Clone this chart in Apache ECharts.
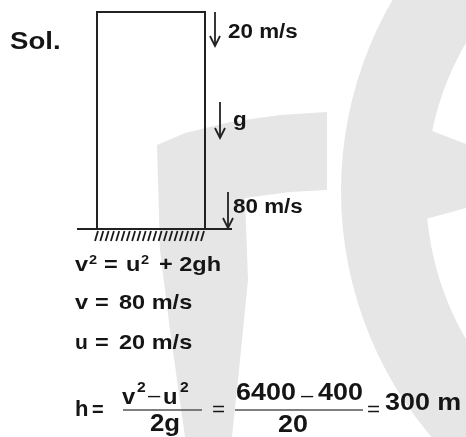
<!DOCTYPE html>
<html>
<head>
<meta charset="utf-8">
<script src="https://cdn.jsdelivr.net/npm/echarts@6/dist/echarts.min.js"></script>
<style>
    html,body{margin:0;padding:0;background:#fff;}
    #chart{width:466px;height:437px;}
</style>
</head>
<body>
<div id="chart"></div>
<script>
    // values of the problem
    const u = 20          // initial speed, m/s
    const v = 80          // final speed, m/s
    const g = 10          // gravity
    const speedLabels = [u + ' m/s', 'g', v + ' m/s']
    const eqLines = [
        ['v', '=', 'u', '+ 2gh'],
        ['v', '=', v + ' m/s'],
        ['u', '=', u + ' m/s']
    ]
    const vSq = v * v
    const uSq = u * u
    const twoG = 2 * g
    const h = (vSq - uSq) / twoG

    const FONT = '"Liberation Sans", Arial, sans-serif'
    const SX = 1.12 // the scan is a bit stretched sideways
    const INK = '#151515'
    const WM = '#e6e6e6'

    function txt(x, y, text, size, weight, sx){
        return {
            type:'text', x:x, y:y, scaleX:sx || SX, z:10,
            style:{
                text:text, fontSize:size, fontWeight:weight || 'bold',
                fontFamily:FONT, fill:INK, align:'left', verticalAlign:'middle'
            }
        }
    }
    function line(x1, y1, x2, y2, w, c){
        return {
            type:'line', z:5,
            shape:{x1:x1, y1:y1, x2:x2, y2:y2},
            style:{stroke:c || '#222', lineWidth:w || 2}
        }
    }
    function arrow(x, y1, y2){
        return [
            line(x, y1, x, y2, 1.8),
            {
                type:'polyline', z:5,
                shape:{points:[[x - 5, y2 - 10], [x, y2], [x + 5, y2 - 10]]},
                style:{stroke:'#222', lineWidth:1.8, fill:null}
            }
        ]
    }

    let chartInstance = echarts.init(document.getElementById('chart'))
    let els = []

    // watermark behind everything
    els.push({type:'ring', z:0, shape:{cx:721, cy:191, r:380, r0:295}, style:{fill:WM}})
    els.push({type:'polygon', z:0, shape:{points:[[422,127],[466,144],[466,208],[422,220]]}, style:{fill:WM}})
    els.push({type:'polygon', z:0, shape:{points:[
        [157,145],[185,133],[230,122],[280,115],[327,112],[327,190],[290,192],[245,198],
        [248,280],[240,360],[232,437],[185,437],[170,330],[160,250]
    ]}, style:{fill:WM}})

    // tower + ground
    els.push({type:'rect', z:5, shape:{x:97, y:12, width:108, height:217}, style:{stroke:'#222', lineWidth:2, fill:null}})
    els.push(line(77, 229, 232, 229, 2))
    for(let x = 95; x <= 203; x += 5.3){
        els.push(line(x + 3, 231, x, 241, 1.8, '#1a1a1a'))
    }

    // arrows and labels
    els = els.concat(arrow(215, 12, 46), arrow(220, 102, 138), arrow(228, 192, 228))
    els.push(txt(10, 42, 'Sol.', 24, 'bold', 1.15))
    els.push(txt(228, 32, speedLabels[0], 20))
    els.push(txt(233, 120, speedLabels[1], 20))
    els.push(txt(233, 207, speedLabels[2], 20))

    // equations
    const y1 = 265, y2 = 303, y3 = 343
    els.push(txt(75, y1, eqLines[0][0], 21), txt(89, y1 - 5, '2', 13))
    els.push(txt(104, y1, eqLines[0][1], 21))
    els.push(txt(126, y1, eqLines[0][2], 21), txt(141, y1 - 5, '2', 13))
    els.push(txt(159, y1, eqLines[0][3], 21))
    els.push(txt(75, y2, eqLines[1][0], 21), txt(95, y2, eqLines[1][1], 21), txt(119, y2, eqLines[1][2], 21))
    els.push(txt(75, y3, eqLines[2][0], 21, 'bold', 1), txt(95, y3, eqLines[2][1], 21), txt(119, y3, eqLines[2][2], 21))

    // h = (v^2 - u^2) / 2g = ...
    els.push(txt(75, 410, 'h', 22, 'bold', 1), txt(92, 410, '=', 20, 'bold', 1))
    els.push(txt(122, 398, 'v', 22, 'bold', 1.08), txt(137, 388, '2', 14))
    els.push(txt(148, 396, '–', 20, 'normal', 1.1))
    els.push(txt(163, 398, 'u', 22, 'bold', 1.08), txt(180, 388, '2', 14))
    els.push(line(123, 410, 202, 410, 1.5, '#555'))
    els.push(txt(150, 425, '2g', 23))
    els.push(txt(212, 410, '=', 20, 'normal'))
    els.push(txt(236, 394, String(vSq), 23, 'bold', 1.17))
    els.push(txt(301, 396, '–', 20, 'normal', 1.1))
    els.push(txt(318, 394, String(uSq), 23, 'bold', 1.17))
    els.push(line(235, 410, 363, 410, 1.5, '#555'))
    els.push(txt(278, 426, String(twoG), 23, 'bold', 1.17))
    els.push(txt(367, 410, '=', 20, 'normal'))
    els.push(txt(385, 404, h + ' m', 23, 'bold', 1.17))

    chartInstance.setOption({
        backgroundColor:'#fff',
        animation:false,
        graphic:els
    })
</script>
</body>
</html>
